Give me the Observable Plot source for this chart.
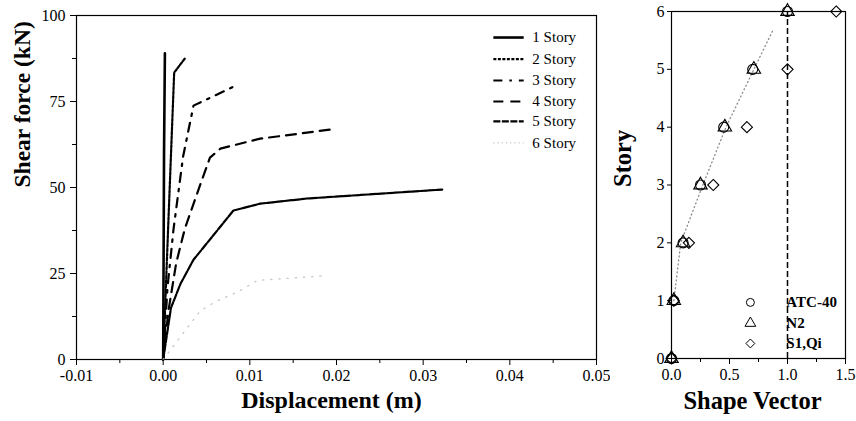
<!DOCTYPE html>
<html>
<head>
<meta charset="utf-8">
<script src="https://cdn.jsdelivr.net/npm/d3@7"></script>
<script src="https://cdn.jsdelivr.net/npm/@observablehq/plot@0.6"></script>
<style>
  html, body { margin: 0; padding: 0; background: white; }
  #wrap { position: relative; width: 856px; height: 421px; background: white; overflow: hidden; }
  #left, #right { position: absolute; top: 0; }
  #left { left: 0; }
  #right { left: 610px; }
  #wrap svg, #wrap svg text { font-family: "Liberation Serif", "Times New Roman", serif !important; }
</style>
</head>
<body>
<div id="wrap"><div id="left"></div><div id="right"></div></div>
<script>
// ---------- Left panel data: pushover curves (displacement m, shear kN) ----------
const storyNames = ["1 Story", "2 Story", "3 Story", "4 Story", "5 Story", "6 Story"];
const disp1 = [0, 0.0001, 0.0002];
const force1 = [0, 60, 89];
const disp2 = [0, 0.0006, 0.00127, 0.0025];
const force2 = [0, 40, 83.4, 87.5];
const disp3 = [0, 0.0005, 0.0012, 0.0023, 0.0035, 0.0087];
const force3 = [0, 21, 38, 59, 73.8, 80];
const disp4 = [0, 0.0006, 0.0015, 0.0025, 0.0043, 0.0054, 0.0066, 0.0112, 0.0198];
const force4 = [0, 14, 28, 38, 51, 58.7, 61.3, 64.2, 67];
const disp5 = [0, 0.0003, 0.0009, 0.002, 0.0035, 0.0064, 0.0081, 0.0112, 0.0166, 0.0322];
const force5 = [0, 5, 15, 22, 29, 38, 43.3, 45.3, 46.8, 49.4];
const disp6 = [0, 0.0043, 0.0062, 0.0085, 0.0109, 0.0185];
const force6 = [0, 14.2, 17, 19.5, 23, 24.3];

const xTicksLeft = [-0.01, 0, 0.01, 0.02, 0.03, 0.04, 0.05];
const xMinorLeft = [-0.005, 0.005, 0.015, 0.025, 0.035, 0.045];
const yTicksLeft = [0, 25, 50, 75, 100];
const yMinorLeft = [12.5, 37.5, 62.5, 87.5];

// ---------- Right panel data: shape vectors ----------
const storyLevels = [0, 1, 2, 3, 4, 5, 6];
const atc40 = [0, 0.02, 0.1, 0.25, 0.45, 0.7, 1.0];
const n2 = [0, 0.02, 0.1, 0.25, 0.46, 0.71, 1.0];
const s1qi = [0, 0.02, 0.15, 0.36, 0.65, 1.0, 1.42];
const fitX = [0.02, 0.08, 0.27, 0.47, 0.71, 0.88];
const fitY = [1.0, 2.0, 3.0, 4.0, 5.0, 5.7];
const refLine = [1.0];
const methodNames = ["ATC-40", "N2", "S1,Qi"];
const xTicksRight = [0, 0.5, 1.0, 1.5];
const xMinorRight = [0.25, 0.75, 1.25];
const yTicksRight = [0, 1, 2, 3, 4, 5, 6];

const font = "'Liberation Serif', 'Times New Roman', serif";
const black = "#000";

// ---------- Left plot ----------
const dispArrays = [disp1, disp2, disp3, disp4, disp5, disp6];
const forceArrays = [force1, force2, force3, force4, force5, force6];
const styles = [
  {stroke: black, strokeWidth: 2.6, strokeDasharray: null},
  {stroke: black, strokeWidth: 2.2, strokeDasharray: "3,1.5"},
  {stroke: black, strokeWidth: 2.2, strokeDasharray: "9,7,2.5,7"},
  {stroke: black, strokeWidth: 2.2, strokeDasharray: "10,7"},
  {stroke: black, strokeWidth: 2.2, strokeDasharray: "7,1.5"},
  {stroke: "#c4c4c4", strokeWidth: 1.3, strokeDasharray: "1.2,7"}
];

const leftMarks = [Plot.frame({stroke: black, strokeWidth: 1.2})];
dispArrays.forEach((dx, i) => {
  const rows = dx.map((d, j) => ({d, f: forceArrays[i][j]}));
  const st = styles[i];
  const opts = {x: "d", y: "f", stroke: st.stroke, strokeWidth: st.strokeWidth, curve: "linear"};
  if (st.strokeDasharray) opts.strokeDasharray = st.strokeDasharray;
  leftMarks.push(Plot.line(rows, opts));
});
// legend (left)
const legX1 = 0.0381, legX2 = 0.0416, legXT = 0.0426;
const legY = [93.6, 87.3, 81.1, 75.0, 69.2, 63.0];
storyNames.forEach((name, i) => {
  const st = styles[i];
  const o = {x1: "a", x2: "b", y1: "y", y2: "y", stroke: st.stroke, strokeWidth: st.strokeWidth};
  if (st.strokeDasharray) o.strokeDasharray = i === 5 ? "1.2,3" : st.strokeDasharray;
  leftMarks.push(Plot.link([{a: legX1, b: legX2, y: legY[i]}], o));
  leftMarks.push(Plot.text([{x: legXT, y: legY[i], t: name}], {x: "x", y: "y", text: "t", textAnchor: "start", fontSize: 15, fill: black}));
});
leftMarks.push(
  Plot.axisX({ticks: xTicksLeft, tickSize: 6, tickPadding: 4, tickFormat: d => d.toFixed(2), label: null, fontSize: 16}),
  Plot.axisX({ticks: xMinorLeft, tickSize: 4, tickFormat: () => "", label: null}),
  Plot.axisY({ticks: yTicksLeft, tickSize: 6, tickPadding: 5, tickFormat: d => String(d), label: null, fontSize: 16}),
  Plot.axisY({ticks: yMinorLeft, tickSize: 4, tickFormat: () => "", label: null}),
  Plot.text(["Displacement (m)"], {frameAnchor: "bottom", dy: 48, dx: -5, fontSize: 24, fontWeight: "bold", fill: black}),
  Plot.text(["Shear force (kN)"], {frameAnchor: "left", dx: -54, rotate: -90, fontSize: 23.5, fontWeight: "bold", fill: black})
);

const leftPlot = Plot.plot({
  width: 610, height: 421,
  marginLeft: 76, marginRight: 14, marginTop: 15, marginBottom: 62,
  x: {domain: [-0.01, 0.05]},
  y: {domain: [0, 100]},
  style: {fontFamily: font, fontSize: "16px", background: "white", color: black},
  marks: leftMarks
});
document.getElementById("left").appendChild(leftPlot);

// ---------- Right plot ----------
const rowsOf = arr => arr.map((v, i) => ({v, s: storyLevels[i]}));
const fitRows = fitX.map((v, i) => ({v, s: fitY[i]}));
const legDotX = 0.68, legTextX = 0.99;
const legS = [0.97, 0.61, 0.26];
const symbols = ["circle", "triangle", "diamond2"];

const rightMarks = [
  Plot.frame({stroke: black, strokeWidth: 1.2}),
  Plot.line(fitRows, {x: "v", y: "s", stroke: "#8a8a8a", strokeWidth: 1.3, strokeDasharray: "1,3"}),
  Plot.ruleX(refLine, {y1: 0, y2: 6, stroke: black, strokeWidth: 1.5, strokeDasharray: "6,3"}),
  Plot.dot(rowsOf(atc40), {x: "v", y: "s", symbol: "circle", r: 5, stroke: black, strokeWidth: 1.1, fill: "none"}),
  Plot.dot(rowsOf(n2), {x: "v", y: "s", symbol: "triangle", r: 5, stroke: black, strokeWidth: 1.1, fill: "none"}),
  Plot.dot(rowsOf(s1qi), {x: "v", y: "s", symbol: "diamond2", r: 5, stroke: black, strokeWidth: 1.1, fill: "none"})
];
methodNames.forEach((name, i) => {
  rightMarks.push(Plot.dot([{x: legDotX, y: legS[i]}], {x: "x", y: "y", symbol: symbols[i], r: 4, stroke: black, strokeWidth: 1, fill: "none"}));
  rightMarks.push(Plot.text([{x: legTextX, y: legS[i], t: name}], {x: "x", y: "y", text: "t", textAnchor: "start", fontSize: 15, fontWeight: "bold", fill: black}));
});
rightMarks.push(
  Plot.axisX({ticks: xTicksRight, tickSize: 6, tickPadding: 4, tickFormat: d => d.toFixed(1), label: null, fontSize: 16}),
  Plot.axisX({ticks: xMinorRight, tickSize: 4, tickFormat: () => "", label: null}),
  Plot.axisY({ticks: yTicksRight, tickSize: 4, tickPadding: 3, tickFormat: d => String(d), label: null, fontSize: 16}),
  Plot.text(["Shape Vector"], {frameAnchor: "bottom", dy: 50, dx: -6, fontSize: 24.5, fontWeight: "bold", fill: black}),
  Plot.text(["Story"], {frameAnchor: "left", dx: -48, dy: 2, rotate: -90, fontSize: 24.5, fontWeight: "bold", fill: black})
);

const rightPlot = Plot.plot({
  width: 246, height: 421,
  marginLeft: 61, marginRight: 11, marginTop: 11, marginBottom: 63,
  x: {domain: [0, 1.5]},
  y: {domain: [0, 6]},
  style: {fontFamily: font, fontSize: "16px", background: "white", color: black, overflow: "visible"},
  marks: rightMarks
});
document.getElementById("right").appendChild(rightPlot);
</script>
</body>
</html>
